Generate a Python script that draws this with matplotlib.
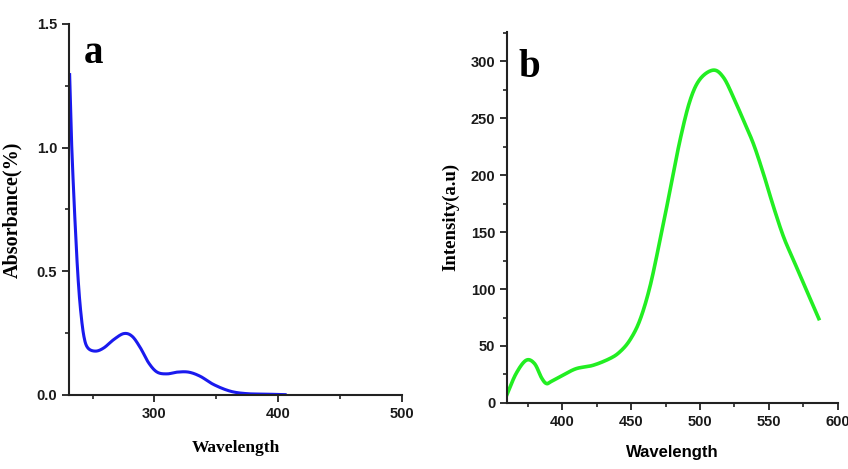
import numpy as np
import matplotlib
matplotlib.use("Agg")
import matplotlib.pyplot as plt
from matplotlib.ticker import MultipleLocator

# Panel a: absorbance
wl_a = [231.5, 232.8, 234.4, 236.3, 238.2, 240.3, 243.0, 246.2, 252.4, 259.1, 267.2,
        275.3, 282.0, 288.7, 295.4, 302.2, 310.2, 318.3, 327.7, 337.1, 347.8, 361.3,
        374.7, 390.9, 405.6]
abs_a = [1.295, 1.06, 0.857, 0.655, 0.48, 0.345, 0.237, 0.19, 0.177, 0.19, 0.224,
         0.248, 0.237, 0.19, 0.129, 0.092, 0.085, 0.092, 0.092, 0.075, 0.042, 0.015,
         0.005, 0.003, 0.001]

# Panel b: emission intensity
wl_b = [359.7, 366.5, 373.8, 379.9, 385.0, 388.5, 392.0, 400.5, 410.2, 422.3, 434.5, 441.7,
        449.0, 456.3, 463.6, 470.9, 478.2, 485.4, 492.7, 500.0, 509.7, 517.0, 524.3,
        531.6, 538.8, 546.1, 553.4, 560.7, 568.0, 575.2, 586.2]
int_b = [6.7, 25.7, 37.4, 34.5, 22.0, 17.0, 18.8, 24.3, 30.1, 33.0, 38.9, 44.7,
         55.0, 72.5, 101.8, 142.7, 186.5, 230.4, 265.5, 284.5, 292.4, 286.0, 268.4,
         248.0, 227.5, 201.0, 172.0, 145.6, 125.0, 104.7, 74.0]


def smooth(x, y, n=600):
    x = np.asarray(x, float); y = np.asarray(y, float)
    ts = np.linspace(0, len(x) - 1, n)
    def cr(vals):
        p = np.concatenate([[2 * vals[0] - vals[1]], vals, [2 * vals[-1] - vals[-2]]])
        out = []
        for tt in ts:
            i = min(int(np.floor(tt)), len(vals) - 2)
            u = tt - i
            p0, p1, p2, p3 = p[i], p[i + 1], p[i + 2], p[i + 3]
            out.append(0.5 * ((2 * p1) + (-p0 + p2) * u + (2 * p0 - 5 * p1 + 4 * p2 - p3) * u ** 2
                              + (-p0 + 3 * p1 - 3 * p2 + p3) * u ** 3))
        return np.array(out)
    return cr(x), cr(y)


fig = plt.figure(figsize=(8.48, 4.69), dpi=100)
tickfam = ["Liberation Sans Narrow", "Liberation Sans", "DejaVu Sans"]
serif = ["Liberation Serif", "DejaVu Serif"]

def style(ax):
    for s in ["top", "right"]:
        ax.spines[s].set_visible(False)
    for s in ["left", "bottom"]:
        ax.spines[s].set_linewidth(1.5)
        ax.spines[s].set_color("#222222")
    ax.tick_params(which="major", direction="out", length=5, width=1.3, colors="#222222")
    ax.tick_params(which="minor", direction="out", length=3, width=1.2, colors="#222222")
    for lab in ax.get_xticklabels() + ax.get_yticklabels():
        lab.set_fontfamily(tickfam)
        lab.set_fontweight("bold")
        lab.set_fontsize(10.5)
        lab.set_color("#1a1a1a")

ax1 = fig.add_axes([0.0814, 0.158, 0.3926, 0.791])
xs, ys = smooth(wl_a, abs_a)
ax1.plot(xs, ys, color="#1a1aee", lw=2.2)
ax1.set_xlim(231, 500)
ax1.set_ylim(0, 1.5)
ax1.set_xticks([300, 400, 500])
ax1.xaxis.set_minor_locator(MultipleLocator(50))
ax1.set_yticks([0.0, 0.5, 1.0, 1.5])
ax1.set_yticklabels(["0.0", "0.5", "1.0", "1.5"])
ax1.yaxis.set_minor_locator(MultipleLocator(0.25))
style(ax1)
ax1.set_xlabel("Wavelength", family=serif, weight="bold", fontsize=12.5, labelpad=14)
ax1.set_ylabel("Absorbance(%)", family=serif, weight="bold", fontsize=14.5, labelpad=10)
ax1.text(0.045, 0.92, "a", transform=ax1.transAxes, family=serif,
         weight="bold", fontsize=28, va="center")

ax2 = fig.add_axes([0.598, 0.141, 0.390, 0.791])
xs, ys = smooth(wl_b, int_b)
ax2.plot(xs, ys, color="#22ee22", lw=2.6)
ax2.set_xlim(360, 600)
ax2.set_ylim(0, 326)
ax2.set_xticks([400, 450, 500, 550, 600])
ax2.xaxis.set_minor_locator(MultipleLocator(25))
ax2.set_yticks([0, 50, 100, 150, 200, 250, 300])
ax2.yaxis.set_minor_locator(MultipleLocator(25))
style(ax2)
ax2.set_xlabel("Wavelength", family=["Liberation Sans", "DejaVu Sans"], weight="bold", fontsize=12, labelpad=12)
ax2.set_ylabel("Intensity(a.u)", family=serif, weight="bold", fontsize=13.5, labelpad=8)
ax2.text(0.035, 0.905, "b", transform=ax2.transAxes, family=serif,
         weight="bold", fontsize=28, va="center")

fig.savefig("out.png", dpi=100)
